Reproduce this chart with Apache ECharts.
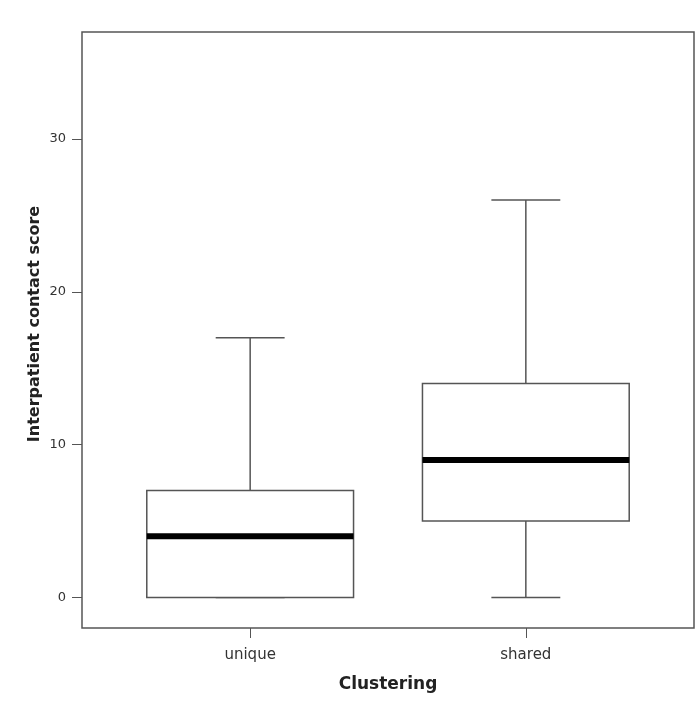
<!DOCTYPE html>
<html>
<head>
<meta charset="utf-8">
<script src="https://cdn.jsdelivr.net/npm/echarts@6/dist/echarts.min.js"></script>
<style>html,body{margin:0;padding:0;background:#fff;}#c{width:700px;height:710px;}</style>
</head>
<body>
<div id="c"></div>
<script>
// Data
var categories = ['unique', 'shared'];
var whiskerLow = [0, 0];
var q1 = [0, 5];
var median = [4, 9];
var q3 = [7, 14];
var whiskerHigh = [17, 26];
var yTicks = [0, 10, 20, 30];

var data = categories.map(function (c, i) {
  return [i + 1, whiskerLow[i], q1[i], median[i], q3[i], whiskerHigh[i]];
});

var LINE = '#555555';
var chart = echarts.init(document.getElementById('c'));
chart.setOption({
  backgroundColor: '#ffffff',
  animation: false,
  grid: { left: 82, right: 6, top: 32, bottom: 82, show: true, borderColor: LINE, borderWidth: 1.5, backgroundColor: 'transparent' },
  xAxis: {
    type: 'value', min: 0.39, max: 2.61,
    name: 'Clustering', nameLocation: 'middle', nameGap: 48,
    nameTextStyle: { fontFamily: 'DejaVu Sans', fontWeight: 'bold', fontSize: 17, color: '#222' },
    axisLine: { show: false, onZero: false },
    splitLine: { show: false },
    axisTick: { show: true, customValues: [1, 2], length: 10, lineStyle: { color: LINE, width: 1 } },
    axisLabel: {
      customValues: [1, 2], margin: 20,
      fontFamily: 'DejaVu Sans', fontSize: 15, color: '#333',
      formatter: function (v) { return categories[Math.round(v) - 1] || ''; }
    }
  },
  yAxis: {
    type: 'value', min: -2, max: 37,
    name: 'Interpatient contact score', nameLocation: 'middle', nameGap: 39, nameRotate: 90,
    nameMoveOverlap: false,
    nameTextStyle: { fontFamily: 'DejaVu Sans', fontWeight: 'bold', fontSize: 16, color: '#222', padding: [0, 0, 0, 12] },
    axisLine: { show: false, onZero: false },
    splitLine: { show: false },
    axisTick: { show: true, customValues: yTicks, length: 10, lineStyle: { color: LINE, width: 1 } },
    axisLabel: { customValues: yTicks, margin: 16, fontFamily: 'DejaVu Sans', fontSize: 13, color: '#333' }
  },
  series: [{
    type: 'custom',
    data: data,
    encode: { x: 0, y: [1, 2, 3, 4, 5] },
    renderItem: function (params, api) {
      var x = api.value(0);
      var bw = api.size([0.75, 0])[0];
      var cw = api.size([0.25, 0])[0];
      var pLow = api.coord([x, api.value(1)]);
      var pQ1 = api.coord([x, api.value(2)]);
      var pMed = api.coord([x, api.value(3)]);
      var pQ3 = api.coord([x, api.value(4)]);
      var pHigh = api.coord([x, api.value(5)]);
      var cx = pQ1[0];
      var ls = { stroke: LINE, lineWidth: 1.5, fill: null };
      return {
        type: 'group',
        children: [
          { type: 'line', shape: { x1: cx, y1: pQ3[1], x2: cx, y2: pHigh[1] }, style: ls },
          { type: 'line', shape: { x1: cx, y1: pLow[1], x2: cx, y2: pQ1[1] }, style: ls },
          { type: 'line', shape: { x1: cx - cw / 2, y1: pHigh[1], x2: cx + cw / 2, y2: pHigh[1] }, style: ls },
          { type: 'line', shape: { x1: cx - cw / 2, y1: pLow[1], x2: cx + cw / 2, y2: pLow[1] }, style: ls },
          { type: 'rect', shape: { x: cx - bw / 2, y: pQ3[1], width: bw, height: pQ1[1] - pQ3[1] }, style: { stroke: LINE, lineWidth: 1.5, fill: '#ffffff' } },
          { type: 'line', shape: { x1: cx - bw / 2, y1: pMed[1], x2: cx + bw / 2, y2: pMed[1] }, style: { stroke: '#000', lineWidth: 6 } }
        ]
      };
    }
  }]
});
</script>
</body>
</html>
